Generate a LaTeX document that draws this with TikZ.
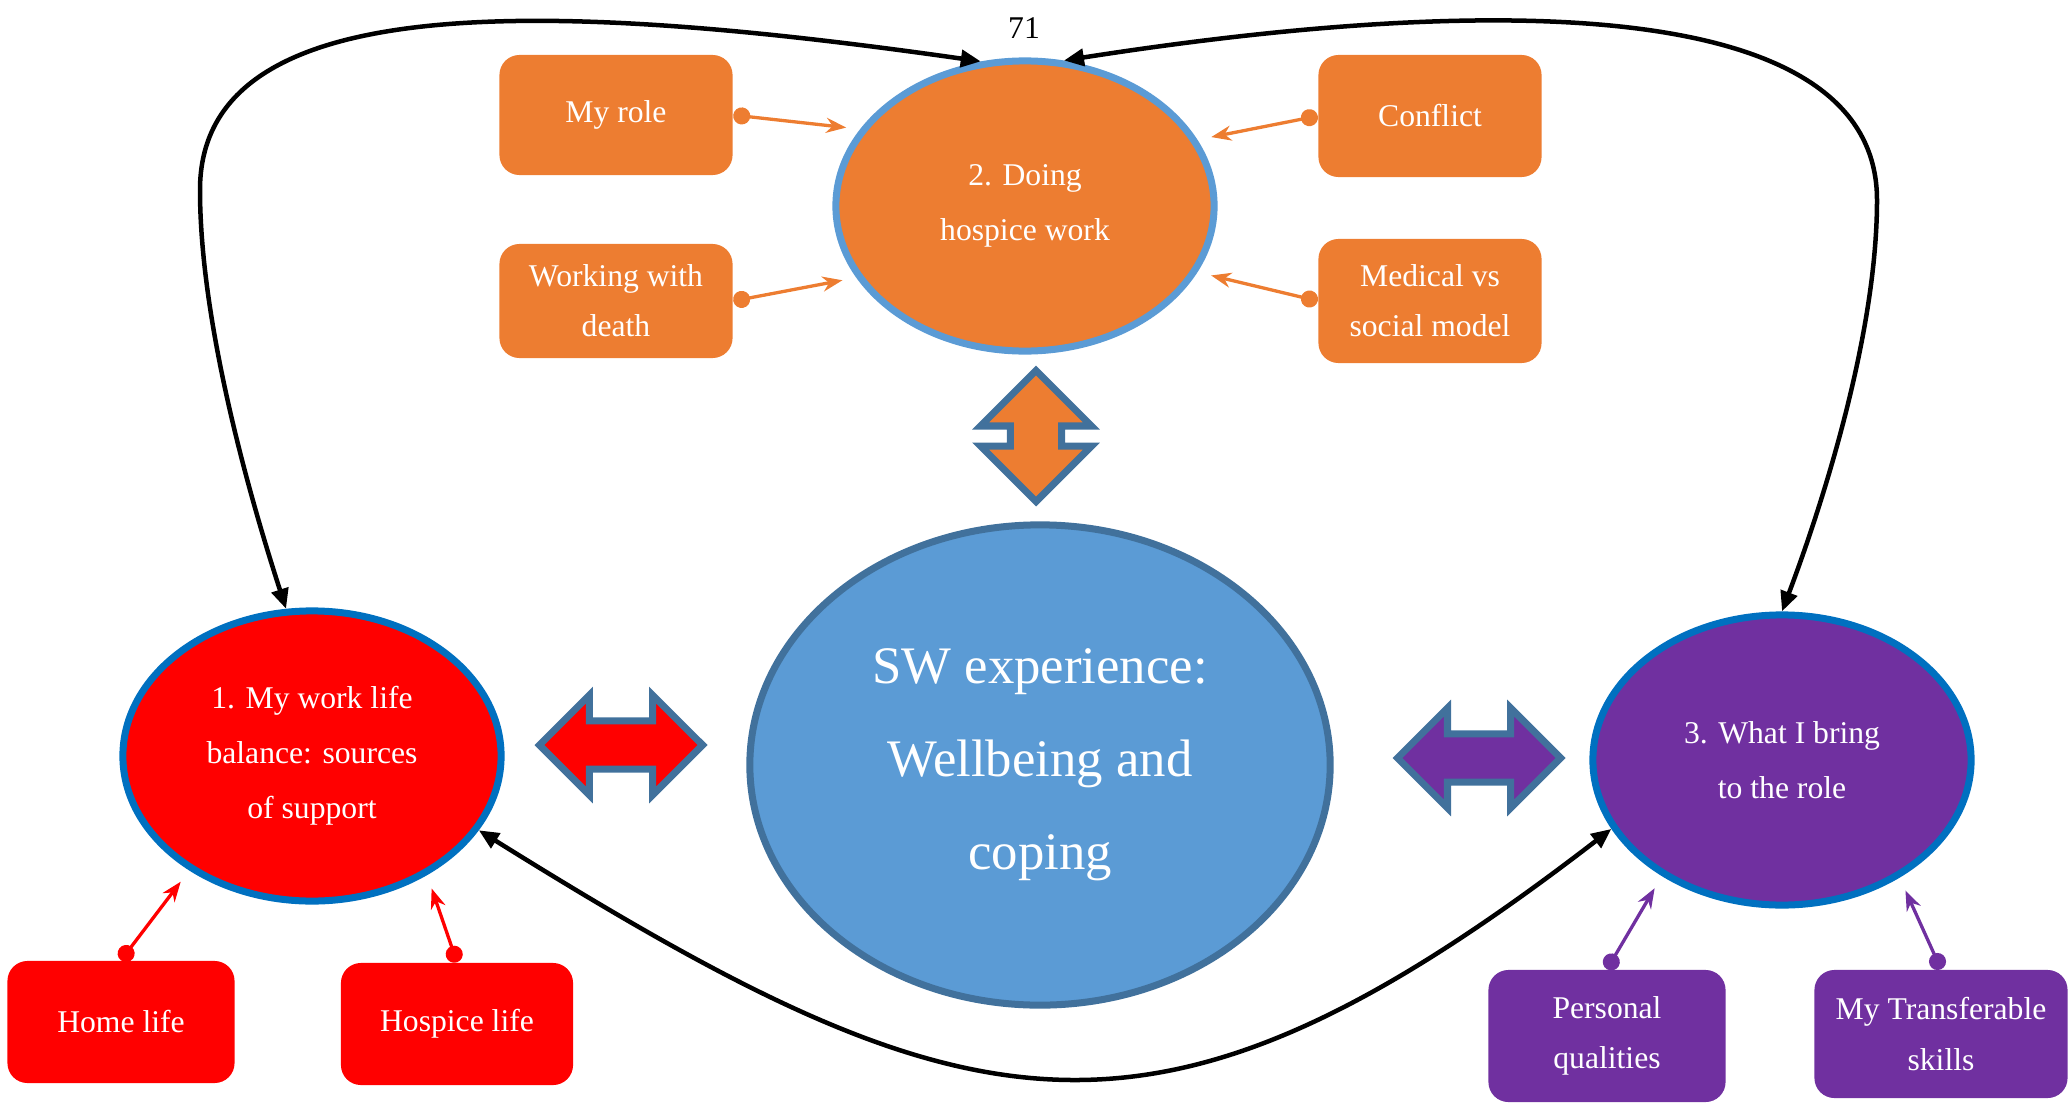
\documentclass[tikz,border=0pt]{standalone}
\usepackage{fontspec}
\setmainfont{Liberation Serif}
\usepackage{tikz}
\usetikzlibrary{shapes.geometric, shapes.arrows, arrows.meta}
\definecolor{hospiceorange}{HTML}{ED7D31}
\definecolor{lifered}{HTML}{FF0000}
\definecolor{rolepurple}{HTML}{7030A0}
\definecolor{swblue}{HTML}{5B9BD5}
\definecolor{swedge}{HTML}{41719C}
\definecolor{themeedge}{HTML}{0070C0}
\tikzstyle{theme} = [ellipse, minimum width=3.78cm, minimum height=2.9cm, inner sep=0pt,
    text centered, align=center, text=white, draw=themeedge, line width=0.07cm,
    font=\fontsize{9}{15.6}\selectfont]
\tikzstyle{core} = [ellipse, minimum width=5.8cm, minimum height=4.8cm, inner sep=0pt,
    text centered, align=center, text=white, fill=swblue, draw=swedge, line width=0.07cm,
    font=\fontsize{15}{26.5}\selectfont]
\tikzstyle{subtheme} = [rectangle, rounded corners=0.2cm, inner sep=2pt,
    text centered, align=center, text=white, font=\fontsize{9}{14.3}\selectfont]
\tikzstyle{twoway} = [double arrow, double arrow tip angle=90, inner xsep=0pt,
    inner ysep=0.205cm, draw=swedge, line width=0.07cm, minimum height=1.63cm,
    double arrow head extend=0.26cm]
\tikzstyle{sublink} = [line width=0.033cm,
    {Circle[length=0.17cm]}-{Stealth[length=0.2cm, width=0.15cm]}, shorten >=4pt]
\tikzstyle{crosslink} = [line width=0.045cm,
    {Triangle[length=0.2cm, width=0.17cm]}-{Triangle[length=0.2cm, width=0.17cm]}]

\begin{document}
\begin{tikzpicture}[x=0.01cm, y=-0.01cm]
    \useasboundingbox (0,0) rectangle (2069,1106);

    \node (pagenum) at (1024,28) {\fontsize{9}{11}\selectfont 71};

    % the three themes round the core
    \node (doing) [theme, fill=hospiceorange, draw=swblue] at (1025,206) {2. Doing\\hospice work};
    \node (work) [theme, fill=lifered] at (312,756) {1. My work life\\balance: sources\\of support};
    \node (bring) [theme, fill=rolepurple] at (1782,760) {3. What I bring\\to the role};
    \node (sw) [core] at (1040,765) {SW experience:\\Wellbeing and\\coping};

    \node (updown) [twoway, fill=hospiceorange, rotate=90, minimum height=1.31cm,
        inner ysep=0.22cm, double arrow head extend=0.3cm] at (1036,436) {};
    \node (leftright) [twoway, fill=lifered] at (621,745) {};
    \node (rightleft) [twoway, fill=rolepurple] at (1479,758) {};

    % subthemes
    \node (myrole) [subtheme, fill=hospiceorange, minimum width=2.33cm, minimum height=1.2cm] at (616,115) {My role};
    \node (working) [subtheme, fill=hospiceorange, minimum width=2.33cm, minimum height=1.14cm] at (616,301) {Working with\\death};
    \node (conflict) [subtheme, fill=hospiceorange, minimum width=2.23cm, minimum height=1.22cm] at (1430,116) {Conflict};
    \node (medical) [subtheme, fill=hospiceorange, minimum width=2.23cm, minimum height=1.24cm] at (1430,301) {Medical vs\\social model};
    \node (homelife) [subtheme, fill=lifered, minimum width=2.27cm, minimum height=1.22cm] at (121,1022) {Home life};
    \node (hospicelife) [subtheme, fill=lifered, minimum width=2.32cm, minimum height=1.22cm] at (457,1024) {Hospice life};
    \node (personal) [subtheme, fill=rolepurple, minimum width=2.37cm, minimum height=1.32cm] at (1607,1036) {Personal\\qualities};
    \node (transfer) [subtheme, fill=rolepurple, minimum width=2.53cm, minimum height=1.28cm] at (1941,1034) {My Transferable\\skills};

    \draw [sublink, hospiceorange] (myrole.east) -- (doing.155);
    \draw [sublink, hospiceorange] (working.east) -- (doing.203);
    \draw [sublink, hospiceorange] (conflict.west) -- (doing.21);
    \draw [sublink, hospiceorange] (medical.west) -- (doing.-21);
    \draw [sublink, lifered] (homelife.north) -- (work.223);
    \draw [sublink, lifered] (hospicelife.north) -- (work.314);
    \draw [sublink, rolepurple] (personal.north) -- (bring.224);
    \draw [sublink, rolepurple] (transfer.north) -- (bring.315);

    % links between the themes
    \draw [crosslink] (doing.107) .. controls (537,-2) and (200,-10) .. (200,190)
        .. controls (200,330) and (255,513) .. (work.100);
    \draw [crosslink] (doing.75) .. controls (1509,-9) and (1877,0) .. (1877,200)
        .. controls (1877,340) and (1818,516) .. (bring.90);
    \draw [crosslink] (work.-24) .. controls (971,1137) and (1153,1182) .. (bring.202);
\end{tikzpicture}
\end{document}
